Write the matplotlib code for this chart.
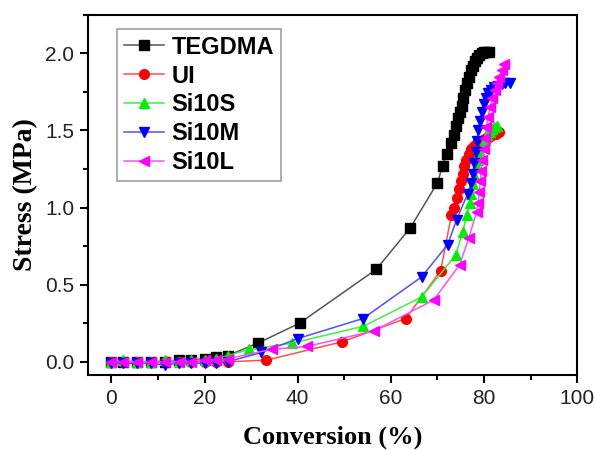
import matplotlib
matplotlib.use("Agg")
import matplotlib.pyplot as plt
from matplotlib.ticker import MultipleLocator

# Near-zero stretch shared by all series (conversion, %)
base_conv = [0, 2.5, 5.5, 8.5, 11.5, 14.5, 17, 20, 22.5, 25]

tegdma_conv = base_conv + [31.4, 40.4, 56.9, 64.2, 70.0, 71.1, 72.0, 73.0, 73.5, 74.0, 74.4,
                           74.8, 75.2, 75.6, 76.0, 76.4, 76.8, 77.2, 77.6, 78.0, 78.5,
                           79.0, 79.5, 80.0, 80.5, 81.0]
tegdma_stress = [0.0, 0.0, 0.0, 0.0, 0.0, 0.01, 0.01, 0.02, 0.03, 0.04,
                 0.12, 0.25, 0.60, 0.87, 1.16, 1.27, 1.35, 1.42, 1.47, 1.53, 1.58,
                 1.62, 1.66, 1.71, 1.76, 1.81, 1.85, 1.89, 1.92, 1.95, 1.97,
                 1.99, 2.00, 2.01, 2.01, 2.01]

ui_conv = base_conv + [33.3, 49.6, 63.2, 70.7, 73.0, 73.6, 74.2, 74.6, 75.0, 75.4,
                       75.8, 76.2, 76.7, 77.2, 77.8, 78.4, 79.0, 79.7, 80.4, 81.1,
                       81.8, 82.5, 83.3]
ui_stress = [0.0, 0.0, 0.0, 0.0, 0.0, 0.0, 0.0, 0.0, 0.0, 0.0,
             0.01, 0.13, 0.28, 0.59, 0.95, 1.00, 1.06, 1.12, 1.17, 1.22,
             1.27, 1.31, 1.35, 1.38, 1.40, 1.42, 1.43, 1.44, 1.45, 1.46,
             1.47, 1.48, 1.49]

si10s_conv = base_conv + [29.6, 38.7, 54.1, 66.6, 73.9, 75.4, 76.3, 76.9, 77.3, 77.7,
                          78.0, 78.4, 78.8, 79.2, 79.7, 80.2, 80.7, 81.2, 81.7, 82.2, 82.7]
si10s_stress = [0.0, 0.01, 0.0, 0.0, 0.01, 0.0, 0.01, 0.01, 0.02, 0.04,
                0.08, 0.12, 0.23, 0.42, 0.69, 0.84, 0.95, 1.03, 1.09, 1.15,
                1.20, 1.26, 1.31, 1.36, 1.40, 1.44, 1.47, 1.49, 1.51, 1.52, 1.53]

si10m_conv = base_conv + [32.2, 40.0, 54.0, 66.6, 72.2, 74.1, 76.5, 77.3, 77.6, 77.9,
                          78.2, 78.5, 78.8, 79.1, 79.5, 79.9, 80.4, 80.9, 81.5, 82.2,
                          83.0, 83.8, 84.6, 85.5]
si10m_stress = [-0.01, -0.01, -0.01, -0.01, -0.02, -0.01, -0.01, -0.01, -0.01, 0.0,
                0.06, 0.15, 0.28, 0.55, 0.76, 0.92, 1.09, 1.16, 1.22, 1.29,
                1.36, 1.43, 1.50, 1.56, 1.62, 1.67, 1.71, 1.74, 1.76, 1.78,
                1.79, 1.80, 1.81, 1.81]

si10l_conv = base_conv + [34.4, 42.1, 56.3, 69.2, 74.8, 76.7, 78.4, 78.7, 79.0, 79.2,
                          79.4, 79.6, 79.9, 80.2, 80.5, 80.9, 81.3, 81.8, 82.3, 82.8,
                          83.3, 83.8, 84.4]
si10l_stress = [0.0, 0.0, 0.0, 0.0, 0.0, 0.0, 0.0, 0.01, 0.01, 0.02,
                0.08, 0.10, 0.20, 0.40, 0.63, 0.80, 0.97, 1.03, 1.10, 1.17,
                1.24, 1.31, 1.38, 1.45, 1.52, 1.59, 1.65, 1.71, 1.76, 1.81,
                1.85, 1.89, 1.93]

series = [
    ("TEGDMA", tegdma_conv, tegdma_stress, "s", "#000000", "#555555"),
    ("UI", ui_conv, ui_stress, "o", "#ff0000", "#ff5050"),
    ("Si10S", si10s_conv, si10s_stress, "^", "#00ee00", "#40ee40"),
    ("Si10M", si10m_conv, si10m_stress, "v", "#0000ff", "#5050ff"),
    ("Si10L", si10l_conv, si10l_stress, "<", "#ff00ff", "#ff50ff"),
]

fig = plt.figure(figsize=(5.95, 4.5), dpi=100)
ax = fig.add_axes([0.148, 0.167, 0.822, 0.8])

for name, xs, ys, mk, mcol, lcol in series:
    ax.plot(xs, ys, color=lcol, lw=1.1, marker=mk, ms=7,
            mfc=mcol, mec=mcol, label=name)

ax.set_xlim(-5, 100)
ax.set_ylim(-0.085, 2.25)
ax.xaxis.set_major_locator(MultipleLocator(20))
ax.xaxis.set_minor_locator(MultipleLocator(10))
ax.yaxis.set_major_locator(MultipleLocator(0.5))
ax.yaxis.set_minor_locator(MultipleLocator(0.25))
ax.yaxis.set_major_formatter(plt.FuncFormatter(lambda v, p: f"{v:.1f}"))

for sp in ax.spines.values():
    sp.set_linewidth(1.5)
ax.tick_params(which="major", direction="out", length=6, width=1.5,
               labelsize=15, pad=4)
ax.tick_params(which="minor", direction="out", length=3.5, width=1.5)
for lab in ax.get_xticklabels() + ax.get_yticklabels():
    lab.set_fontfamily("Liberation Sans")
    lab.set_color("#222222")

ax.set_xlabel("Conversion (%)", fontfamily="Liberation Serif", fontweight="bold",
              fontsize=19, labelpad=13)
ax.set_ylabel("Stress (MPa)", fontfamily="Liberation Serif", fontweight="bold",
              fontsize=20, labelpad=5)

leg = ax.legend(loc="upper left", bbox_to_anchor=(0.05, 0.975), frameon=True,
                fancybox=False, edgecolor="#888888",
                prop={"family": "Liberation Sans", "weight": "bold", "size": 17},
                handlelength=1.7, handletextpad=0.3, labelspacing=0.25,
                borderpad=0.3, borderaxespad=0.2)
leg.get_frame().set_linewidth(1.2)

fig.savefig("out.png", dpi=100)
